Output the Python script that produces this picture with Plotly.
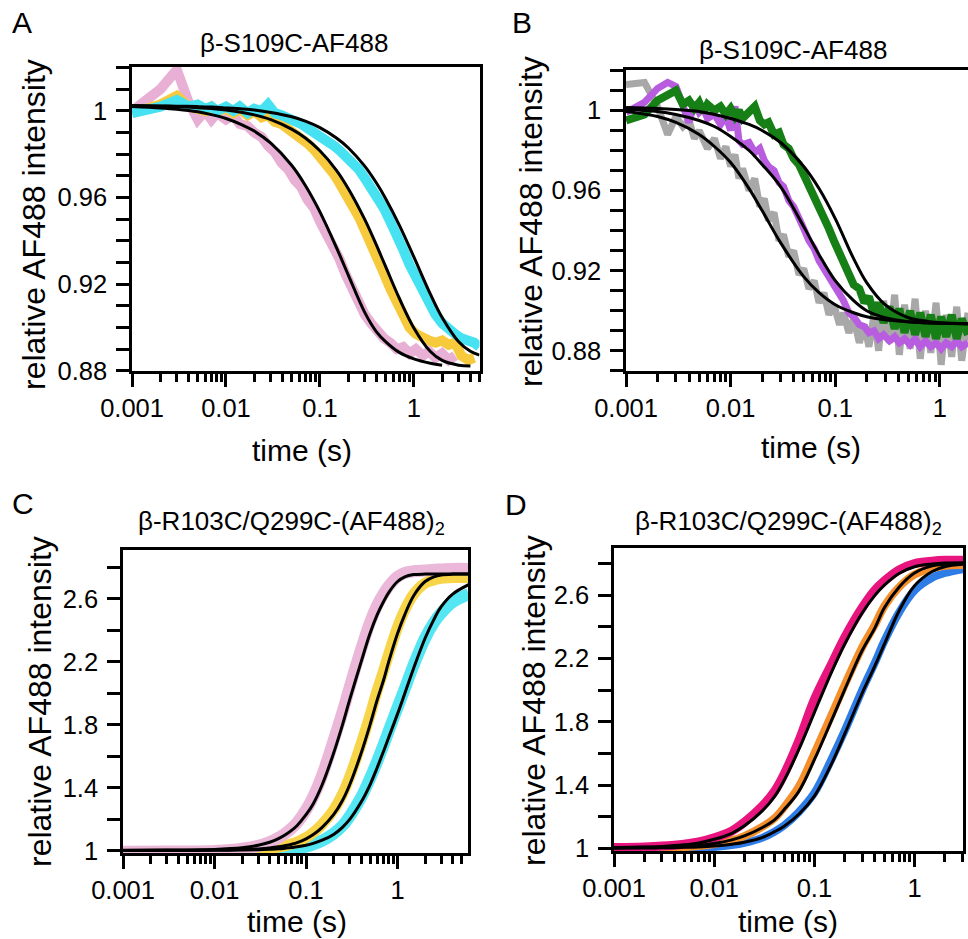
import plotly.graph_objects as go

W, H = 968, 939
FONT = "Liberation Sans, Arial, sans-serif"

# ---------------- panel A : beta-S109C-AF488, decrease ----------------
t_fit_a = [0.001, 0.002, 0.003, 0.005, 0.007, 0.01, 0.015, 0.02, 0.03, 0.05, 0.07, 0.1,
           0.15, 0.2, 0.3, 0.4, 0.5, 0.7, 1, 1.5, 2, 3, 4, 5]
fit_a_pink = [1.0021, 1.0014, 1.0008, 0.9996, 0.9983, 0.9965, 0.9935, 0.9907, 0.9851, 0.9749,
              0.9656, 0.9534, 0.9369, 0.9243, 0.9070, 0.8980, 0.8935, 0.8885, 0.8855, 0.8835,
              0.8826, None, None, None]
fit_a_yellow = [1.0025, 1.0022, 1.0020, 1.0015, 1.0011, 1.0004, 0.9993, 0.9982, 0.9960, 0.9916,
                0.9875, 0.9816, 0.9726, 0.9642, 0.9499, 0.9380, 0.9282, 0.9135, 0.8998, 0.8889,
                0.8848, 0.8826, 0.8822, None]
fit_a_cyan = [1.0024, 1.0023, 1.0022, 1.0020, 1.0018, 1.0014, 1.0009, 1.0004, 0.9993, 0.9973,
              0.9953, 0.9923, 0.9875, 0.9830, 0.9745, 0.9667, 0.9596, 0.9473, 0.9326, 0.9154,
              0.9046, 0.8934, 0.8890, 0.8872]

t_data_a = [0.001, 0.002, 0.003, 0.004, 0.005, 0.006, 0.007, 0.008, 0.01, 0.012, 0.014, 0.017,
            0.02, 0.024, 0.028, 0.033, 0.039, 0.046, 0.054, 0.063, 0.074, 0.087, 0.1, 0.12,
            0.14, 0.16, 0.19, 0.22, 0.26, 0.3, 0.35, 0.41, 0.48, 0.56, 0.66, 0.77, 0.9, 1.05,
            1.25, 1.45, 1.7, 2.0, 2.35, 2.75, 3.2, 3.8, 4.4, 5.0]
data_a_pink = [1.000, 1.010, 1.019, 1.004, 0.996, 1.000, 0.996, 0.999, 0.996, 0.998, 0.994, 0.993,
               0.990, 0.988, 0.984, 0.981, 0.976, 0.973, 0.968, 0.965, 0.959, 0.955, 0.949, 0.943,
               0.937, 0.932, 0.924, 0.918, 0.912, 0.906, 0.902, 0.898, 0.895, 0.893, 0.890, 0.891,
               0.888, 0.890, 0.887, 0.889, 0.886, 0.888, 0.885, 0.887, None, None, None, None]
data_a_yellow = [0.999, 1.003, 1.007, 1.002, 1.001, 1.000, 1.002, 1.000, 1.001, 0.999, 1.001, 0.998,
                 1.000, 0.997, 0.998, 0.995, 0.994, 0.992, 0.990, 0.988, 0.985, 0.982, 0.979, 0.975,
                 0.971, 0.967, 0.962, 0.957, 0.951, 0.945, 0.939, 0.932, 0.925, 0.918, 0.911, 0.905,
                 0.900, 0.897, 0.895, 0.894, 0.893, 0.894, 0.892, 0.893, 0.887, 0.885, 0.886, None]
data_a_cyan = [0.999, 1.002, 1.005, 1.002, 1.003, 1.001, 1.002, 1.000, 1.002, 1.000, 1.002, 0.999,
               1.001, 1.000, 1.003, 0.999, 0.998, 0.997, 0.995, 0.994, 0.992, 0.990, 0.989, 0.987,
               0.984, 0.982, 0.979, 0.976, 0.973, 0.969, 0.965, 0.960, 0.955, 0.949, 0.943, 0.936,
               0.929, 0.923, 0.916, 0.911, 0.906, 0.902, 0.899, 0.897, 0.895, 0.894, 0.893, 0.891]

# ---------------- panel B : beta-S109C-AF488, decrease ----------------
t_fit_b = [0.001, 0.002, 0.003, 0.005, 0.007, 0.01, 0.015, 0.02, 0.03, 0.05, 0.07, 0.1, 0.15,
           0.2, 0.3, 0.5, 0.7, 1, 1.86]
fit_b_gray = [0.9995, 0.997, 0.994, 0.988, 0.982, 0.974, 0.961, 0.950, 0.934, 0.917, 0.909, 0.903,
              0.899, 0.897, 0.8955, 0.8945, 0.894, 0.8937, 0.8935]
fit_b_purple = [1.0005, 0.9995, 0.998, 0.995, 0.992, 0.987, 0.980, 0.973, 0.962, 0.942, 0.928,
                0.915, 0.905, 0.900, 0.8965, 0.8945, 0.894, 0.8937, 0.8935]
fit_b_green = [1.0015, 1.001, 1.0005, 0.9995, 0.998, 0.996, 0.993, 0.990, 0.984, 0.972, 0.961,
               0.946, 0.926, 0.914, 0.903, 0.8965, 0.895, 0.894, 0.8935]

t_data_b = [0.001, 0.0015, 0.002, 0.0025, 0.003, 0.0035, 0.004, 0.0045, 0.005, 0.0055, 0.006,
            0.007, 0.008, 0.009, 0.01, 0.011, 0.012, 0.013, 0.015, 0.017, 0.019, 0.021, 0.023,
            0.026, 0.029, 0.032, 0.036, 0.04, 0.045, 0.05, 0.056, 0.063, 0.07, 0.078, 0.087,
            0.097, 0.11, 0.12, 0.135, 0.15, 0.17, 0.19, 0.21, 0.235, 0.26, 0.29, 0.33, 0.37,
            0.41, 0.46, 0.52, 0.58, 0.65, 0.73, 0.82, 0.92, 1.03, 1.15, 1.3, 1.45, 1.62, 1.86]
data_b_gray = [1.013, 1.014, 1.002, 0.988, 0.997, 0.992, 0.995, 0.986, 0.990, 0.984,
               0.981, 0.986, 0.976, 0.982, 0.972, 0.978, 0.966, 0.971, 0.960, 0.966,
               0.952, 0.956, 0.945, 0.949, 0.935, 0.938, 0.927, 0.930, 0.918, 0.921,
               0.911, 0.915, 0.904, 0.909, 0.898, 0.903, 0.893, 0.899, 0.889, 0.896,
               0.884, 0.893, 0.882, 0.898, 0.880, 0.905, 0.884, 0.908, 0.878, 0.903,
               0.881, 0.906, 0.876, 0.900, 0.879, 0.904, 0.873, 0.898, 0.877, 0.902,
               0.875, 0.899]
data_b_purple = [0.999, 1.004, 1.011, 1.014, 1.012, 1.002, 0.994, 1.004, 0.999, 1.001,
                 0.996, 0.998, 0.993, 0.997, 0.990, 1.002, 0.985, 0.983, 0.984, 0.979,
                 0.981, 0.975, 0.972, 0.970, 0.964, 0.962, 0.955, 0.952, 0.945, 0.941,
                 0.935, 0.931, 0.925, 0.921, 0.916, 0.913, 0.907, 0.905, 0.899, 0.897,
                 0.893, 0.892, 0.889, 0.890, 0.886, 0.888, 0.885, 0.887, 0.884, 0.886,
                 0.883, 0.886, 0.882, 0.885, 0.882, 0.884, 0.881, 0.884, 0.882, 0.885,
                 0.882, 0.884]
data_b_green = [0.995, 0.998, 1.005, 1.008, 1.010, 1.003, 1.005, 1.001, 1.004, 0.999,
                1.003, 1.000, 1.002, 0.998, 1.001, 0.997, 1.000, 0.996, 0.999, 1.002,
                0.995, 0.993, 0.994, 0.988, 0.989, 0.983, 0.981, 0.976, 0.973, 0.968,
                0.964, 0.958, 0.953, 0.946, 0.941, 0.935, 0.929, 0.923, 0.918, 0.913,
                0.911, 0.904, 0.907, 0.898, 0.904, 0.894, 0.902, 0.891, 0.901, 0.889,
                0.900, 0.888, 0.899, 0.887, 0.898, 0.886, 0.897, 0.887, 0.898, 0.886,
                0.896, 0.888]

# ---------------- panel C : beta-R103C/Q299C-(AF488)2, increase ----------------
t_c = [0.001, 0.003, 0.01, 0.015, 0.02, 0.03, 0.04, 0.05, 0.06, 0.07, 0.08, 0.1, 0.12, 0.15,
       0.2, 0.25, 0.3, 0.4, 0.5, 0.6, 0.7, 0.8, 1, 1.2, 1.5, 2, 2.5, 3, 4, 6]
fit_c_pink = [1.005, 1.006, 1.01, 1.015, 1.021, 1.036, 1.055, 1.078, 1.104, 1.132, 1.162, 1.23,
              1.30, 1.42, 1.62, 1.80, 1.96, 2.2, 2.38, 2.5, 2.58, 2.64, 2.71, 2.74, 2.754, 2.757,
              2.757, 2.757, 2.757, 2.757]
fit_c_yellow = [1.003, 1.004, 1.006, 1.007, 1.009, 1.013, 1.019, 1.026, 1.034, 1.043, 1.053,
                1.077, 1.104, 1.15, 1.23, 1.32, 1.42, 1.62, 1.80, 1.96, 2.08, 2.2, 2.38, 2.5,
                2.62, 2.71, 2.74, 2.752, 2.757, 2.757]
fit_c_cyan = [1.003, 1.003, 1.004, 1.005, 1.006, 1.008, 1.011, 1.014, 1.018, 1.022, 1.026, 1.036,
              1.048, 1.068, 1.105, 1.15, 1.2, 1.31, 1.42, 1.53, 1.63, 1.72, 1.87, 2.0, 2.16, 2.35,
              2.47, 2.55, 2.63, 2.69]
data_c_pink = [0.995, 0.996, 1.0, 1.006, 1.014, 1.032, 1.056, 1.084, 1.114, 1.146, 1.18, 1.26,
               1.345, 1.48, 1.70, 1.88, 2.04, 2.28, 2.45, 2.56, 2.63, 2.68, 2.74, 2.765, 2.775,
               2.78, 2.785, 2.787, 2.79, 2.79]
data_c_yellow = [0.995, 0.995, 0.997, 0.999, 1.002, 1.008, 1.015, 1.024, 1.034, 1.045, 1.057,
                 1.085, 1.117, 1.17, 1.26, 1.36, 1.47, 1.68, 1.86, 2.02, 2.14, 2.25, 2.42, 2.53,
                 2.63, 2.7, 2.72, 2.73, 2.735, 2.735]
data_c_cyan = [0.99, 0.99, 0.99, 0.991, 0.992, 0.994, 0.997, 1.0, 1.005, 1.01, 1.015, 1.027,
               1.042, 1.065, 1.11, 1.16, 1.22, 1.34, 1.46, 1.57, 1.67, 1.76, 1.91, 2.03, 2.18,
               2.35, 2.45, 2.51, 2.58, 2.63]

# ---------------- panel D : beta-R103C/Q299C-(AF488)2, increase ----------------
t_d = [0.001, 0.002, 0.003, 0.005, 0.007, 0.01, 0.015, 0.02, 0.03, 0.04, 0.05, 0.07, 0.1,
       0.15, 0.2, 0.3, 0.4, 0.5, 0.7, 1, 1.5, 2, 3.05]
fit_d_magenta = [1.005, 1.008, 1.012, 1.022, 1.034, 1.057, 1.095, 1.142, 1.235, 1.327, 1.431,
                 1.625, 1.858, 2.12, 2.288, 2.487, 2.597, 2.663, 2.737, 2.78, 2.797, 2.803, 2.805]
fit_d_orange = [1.003, 1.006, 1.008, 1.012, 1.019, 1.03, 1.053, 1.078, 1.13, 1.18, 1.245, 1.36,
                1.56, 1.815, 2.0, 2.25, 2.39, 2.52, 2.65, 2.74, 2.785, 2.795, 2.8]
fit_d_blue = [1.001, 1.002, 1.003, 1.006, 1.009, 1.015, 1.026, 1.038, 1.067, 1.105, 1.14, 1.215,
              1.33, 1.54, 1.72, 1.98, 2.15, 2.29, 2.5, 2.66, 2.75, 2.78, 2.795]
data_d_magenta = [1.005, 1.009, 1.014, 1.026, 1.04, 1.066, 1.11, 1.165, 1.265, 1.36, 1.47, 1.68,
                  1.94, 2.17, 2.33, 2.52, 2.63, 2.69, 2.76, 2.8, 2.815, 2.82, 2.82]
data_d_orange = [1.0, 1.001, 1.003, 1.008, 1.015, 1.027, 1.05, 1.077, 1.135, 1.19, 1.26, 1.39,
                 1.6, 1.85, 2.03, 2.27, 2.41, 2.53, 2.65, 2.73, 2.77, 2.785, 2.79]
data_d_blue = [0.995, 0.996, 0.997, 0.999, 1.002, 1.008, 1.02, 1.034, 1.066, 1.105, 1.145, 1.23,
               1.35, 1.57, 1.74, 2.0, 2.17, 2.31, 2.49, 2.63, 2.71, 2.74, 2.765]

# ---------------- ticks ----------------
decade_ticks = [0.001, 0.01, 0.1, 1]
decade_text = ["0.001", "0.01", "0.1", "1"]
minor_t = [0.002, 0.003, 0.004, 0.005, 0.006, 0.007, 0.008, 0.009,
           0.02, 0.03, 0.04, 0.05, 0.06, 0.07, 0.08, 0.09,
           0.2, 0.3, 0.4, 0.5, 0.6, 0.7, 0.8, 0.9, 2, 3, 4, 5, 6]
low_ticks = [0.88, 0.92, 0.96, 1]
low_text = ["0.88", "0.92", "0.96", "1"]
low_minor = [0.87, 0.89, 0.90, 0.91, 0.93, 0.94, 0.95, 0.97, 0.98, 0.99, 1.01, 1.02]
high_ticks = [1, 1.4, 1.8, 2.2, 2.6]
high_text = ["1", "1.4", "1.8", "2.2", "2.6"]
high_minor = [1.2, 1.6, 2.0, 2.4, 2.8]

fig = go.Figure()


def ref(kind, n):
    return kind if n == 1 else f"{kind}{n}"


def key(kind, n):
    return f"{kind}axis" if n == 1 else f"{kind}axis{n}"


def fx(px):
    # pixel -> paper fraction
    return px / W


def fy(py):
    return 1 - py / H


def add_line(n, t, v, color, width, shape="linear"):
    fig.add_trace(go.Scatter(x=t, y=v, mode="lines",
                             line=dict(color=color, width=width, shape=shape, smoothing=1.0),
                             xaxis=ref("x", n), yaxis=ref("y", n),
                             showlegend=False, hoverinfo="skip"))


def set_axes(n, xpx, ypx, xmax_log, yrange, yticks, ytext, yminor, mirror_y=True):
    # domains come from pixel positions of the frame
    fig.layout[key("x", n)] = dict(
        domain=[fx(xpx[0]), fx(xpx[1])], anchor=ref("y", n), type="log", automargin=False,
        range=[-3.0005, xmax_log], tickmode="array", tickvals=decade_ticks, ticktext=decade_text,
        ticks="outside", ticklen=13, tickwidth=2.5, tickcolor="black",
        showline=True, linewidth=2.5, linecolor="black", mirror=True, showgrid=False,
        zeroline=False, tickfont=dict(size=25.5, color="black", family=FONT),
        minor=dict(tickmode="array", tickvals=minor_t, ticks="outside", ticklen=8,
                   tickwidth=2.5, tickcolor="black", showgrid=False))
    fig.layout[key("y", n)] = dict(
        domain=[fy(ypx[1]), fy(ypx[0])], anchor=ref("x", n), range=yrange,
        automargin=False, tickmode="array", tickvals=yticks, ticktext=ytext,
        ticks="outside", ticklen=13, tickwidth=2.5, tickcolor="black", ticklabelstandoff=4,
        showline=True, linewidth=2.5, linecolor="black", mirror=mirror_y, showgrid=False,
        zeroline=False, tickfont=dict(size=25.5, color="black", family=FONT),
        minor=dict(tickmode="array", tickvals=yminor, ticks="outside", ticklen=13,
                   tickwidth=2.5, tickcolor="black", showgrid=False))


def label(x, y, text, size, angle=0):
    fig.add_annotation(x=fx(x), y=fy(y), xref="paper", yref="paper", text=text,
                       showarrow=False, textangle=angle, xanchor="center", yanchor="middle",
                       borderpad=0, font=dict(size=size, color="black", family=FONT))


# panel A
add_line(1, t_data_a, data_a_pink, "#E8B0D4", 10)
add_line(1, t_data_a, data_a_yellow, "#F7CA3E", 10)
add_line(1, t_data_a, data_a_cyan, "#47E2F1", 10)
for f in (fit_a_pink, fit_a_yellow, fit_a_cyan):
    add_line(1, t_fit_a, f, "black", 3, "spline")
set_axes(1, (132, 479.5), (67, 371), 0.699, [0.8799, 1.0203], low_ticks, low_text, low_minor)

# panel B
add_line(2, t_data_b, data_b_gray, "#A8A8A8", 7)
add_line(2, t_data_b, data_b_purple, "#B85CE0", 7)
add_line(2, t_data_b, data_b_green, "#167F16", 8)
for f in (fit_b_gray, fit_b_purple, fit_b_green):
    add_line(2, t_fit_b, f, "black", 3, "spline")
set_axes(2, (626, 968), (70, 371), 0.2695, [0.8699, 1.0202], low_ticks, low_text, low_minor,
         mirror_y=False)

# panel C
add_line(3, t_c, data_c_cyan, "#55E6F3", 12, "spline")
add_line(3, t_c, data_c_yellow, "#F8D548", 11, "spline")
add_line(3, t_c, data_c_pink, "#EBB8DA", 12, "spline")
for f in (fit_c_pink, fit_c_yellow, fit_c_cyan):
    add_line(3, t_c, f, "black", 3, "spline")
set_axes(3, (123, 468), (550, 853), 0.770, [0.987, 2.91], high_ticks, high_text, high_minor)

# panel D
add_line(4, t_d, data_d_blue, "#2E7CE6", 8, "spline")
add_line(4, t_d, data_d_orange, "#F48F2C", 8, "spline")
add_line(4, t_d, data_d_magenta, "#E8157F", 9, "spline")
for f in (fit_d_magenta, fit_d_orange, fit_d_blue):
    add_line(4, t_d, f, "black", 3, "spline")
set_axes(4, (614, 963), (547.7, 851), 0.484, [0.983, 2.9], high_ticks, high_text, high_minor)

# panel letters, titles and axis titles
title_low = "β-S109C-AF488"
title_high = "β-R103C/Q299C-(AF488)<sub>2</sub>"
ytitle = "relative AF488 intensity"
xtitle = "time (s)"

for letter, x, y in (("A", 22, 23), ("B", 522, 23), ("C", 23, 503), ("D", 516, 504)):
    label(x, y, letter, 30)
label(294, 43, title_low, 26)
label(793, 50, title_low, 26)
label(291, 522, title_high, 26)
label(788, 522, title_high, 26)
for x, y in ((302, 450), (811, 447), (297, 921), (788, 921)):
    label(x, y, xtitle, 30)
for x, y in ((34, 225), (531, 222), (40, 702), (534, 701)):
    label(x, y, ytitle, 32, -90)

fig.update_layout(template="none", width=W, height=H, margin=dict(l=0, r=0, t=0, b=0),
                  plot_bgcolor="white", paper_bgcolor="white",
                  font=dict(family=FONT, color="black"))

# drop the default page margin so the figure sits at the window's corner
fig.write_html("out.html", config={"displayModeBar": False},
               post_script="document.body.style.margin = '0';")
